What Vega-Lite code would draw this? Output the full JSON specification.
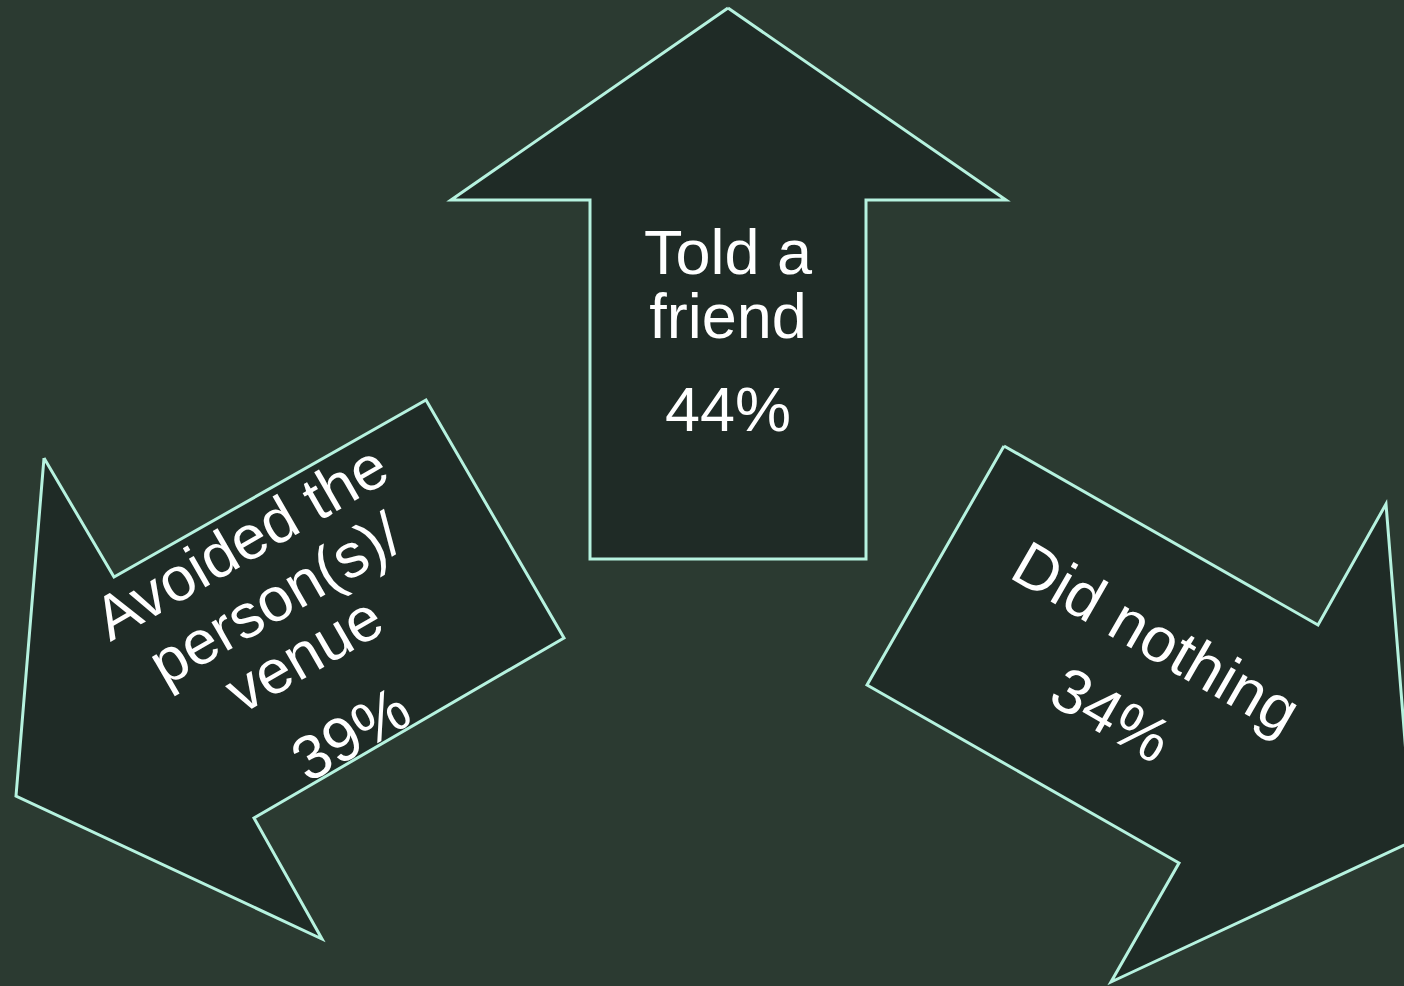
{
  "$schema": "https://vega.github.io/schema/vega-lite/v6.json",
  "width": 1404,
  "height": 986,
  "autosize": "none",
  "padding": 0,
  "background": "#2b3a31",
  "config": {"view": {"stroke": null}},
  "datasets": {
    "shapes": [
      {"arrow": "up", "i": 0, "x": 728, "y": 8},
      {"arrow": "up", "i": 1, "x": 1006, "y": 200},
      {"arrow": "up", "i": 2, "x": 866, "y": 200},
      {"arrow": "up", "i": 3, "x": 866, "y": 559},
      {"arrow": "up", "i": 4, "x": 590, "y": 559},
      {"arrow": "up", "i": 5, "x": 590, "y": 200},
      {"arrow": "up", "i": 6, "x": 451, "y": 200},
      {"arrow": "up", "i": 7, "x": 728, "y": 8},
      {"arrow": "left", "i": 0, "x": 44, "y": 458},
      {"arrow": "left", "i": 1, "x": 114, "y": 577},
      {"arrow": "left", "i": 2, "x": 426, "y": 400},
      {"arrow": "left", "i": 3, "x": 564, "y": 638},
      {"arrow": "left", "i": 4, "x": 254, "y": 818},
      {"arrow": "left", "i": 5, "x": 322, "y": 939},
      {"arrow": "left", "i": 6, "x": 16, "y": 796},
      {"arrow": "left", "i": 7, "x": 44, "y": 458},
      {"arrow": "right", "i": 0, "x": 1004, "y": 446},
      {"arrow": "right", "i": 1, "x": 1318, "y": 625},
      {"arrow": "right", "i": 2, "x": 1386, "y": 504},
      {"arrow": "right", "i": 3, "x": 1413, "y": 841},
      {"arrow": "right", "i": 4, "x": 1111, "y": 982},
      {"arrow": "right", "i": 5, "x": 1179, "y": 863},
      {"arrow": "right", "i": 6, "x": 867, "y": 685},
      {"arrow": "right", "i": 7, "x": 1004, "y": 446}
    ],
    "labels": [
      {"arrow": "up", "text": "Told a", "x": 728, "y": 274},
      {"arrow": "up", "text": "friend", "x": 728, "y": 338},
      {"arrow": "up", "text": "44%", "x": 728, "y": 431},
      {"arrow": "left", "text": "Avoided the", "x": 242, "y": 544},
      {"arrow": "left", "text": "person(s)/", "x": 276, "y": 601},
      {"arrow": "left", "text": "venue", "x": 305, "y": 656},
      {"arrow": "left", "text": "39%", "x": 352, "y": 736},
      {"arrow": "right", "text": "Did nothing", "x": 1155, "y": 640},
      {"arrow": "right", "text": "34%", "x": 1110, "y": 717}
    ]
  },
  "layer": [
    {
      "data": {"name": "shapes"},
      "mark": {"type": "line", "fill": "#1f2b26", "stroke": "#b6f2df", "strokeWidth": 3, "strokeJoin": "miter", "clip": true},
      "encoding": {
        "x": {"field": "x", "type": "quantitative", "scale": {"domain": [0, 1404], "nice": false, "zero": false}, "axis": null},
        "y": {"field": "y", "type": "quantitative", "scale": {"domain": [0, 986], "nice": false, "zero": false, "reverse": true}, "axis": null},
        "detail": {"field": "arrow"},
        "order": {"field": "i", "type": "quantitative"}
      }
    },
    {
      "data": {"name": "labels"},
      "transform": [{"filter": "datum.arrow === 'up'"}],
      "mark": {"type": "text", "font": "Liberation Sans", "fontSize": 63, "color": "#ffffff", "align": "center", "baseline": "alphabetic"},
      "encoding": {
        "x": {"field": "x", "type": "quantitative"},
        "y": {"field": "y", "type": "quantitative"},
        "text": {"field": "text"}
      }
    },
    {
      "data": {"name": "labels"},
      "transform": [{"filter": "datum.arrow === 'left'"}],
      "mark": {"type": "text", "font": "Liberation Sans", "fontSize": 62, "color": "#ffffff", "align": "center", "baseline": "middle", "angle": 330},
      "encoding": {
        "x": {"field": "x", "type": "quantitative"},
        "y": {"field": "y", "type": "quantitative"},
        "text": {"field": "text"}
      }
    },
    {
      "data": {"name": "labels"},
      "transform": [{"filter": "datum.arrow === 'right'"}],
      "mark": {"type": "text", "font": "Liberation Sans", "fontSize": 63, "color": "#ffffff", "align": "center", "baseline": "middle", "angle": 30},
      "encoding": {
        "x": {"field": "x", "type": "quantitative"},
        "y": {"field": "y", "type": "quantitative"},
        "text": {"field": "text"}
      }
    }
  ]
}
